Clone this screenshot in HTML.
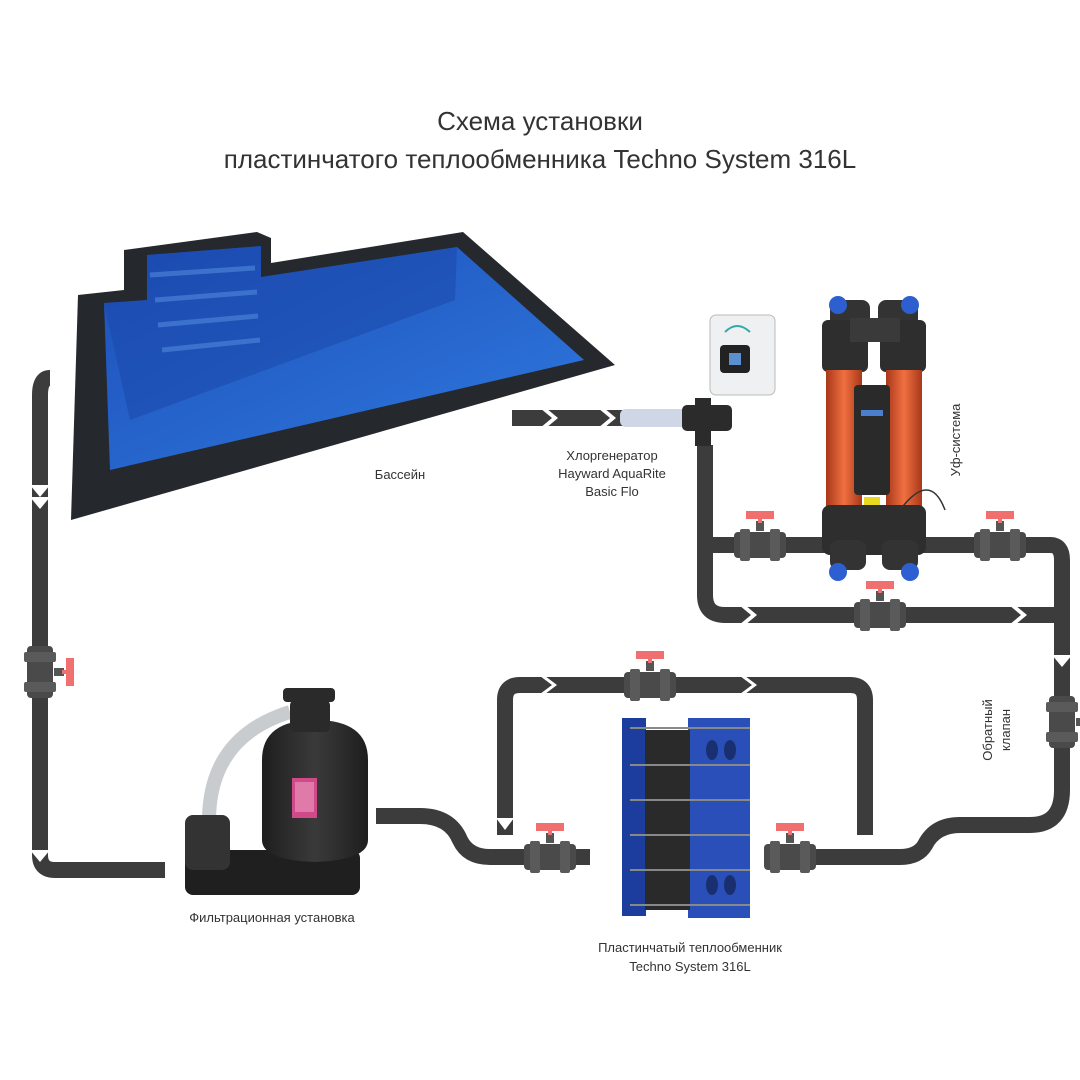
<!DOCTYPE html>
<html><head><meta charset="utf-8"><style>
html,body{margin:0;padding:0;background:#fff;}
svg{display:block}
text{font-family:"Liberation Sans",Arial,sans-serif;fill:#333}
</style></head><body>
<svg width="1080" height="1080" viewBox="0 0 1080 1080" xmlns="http://www.w3.org/2000/svg">
<defs>
<linearGradient id="pw" x1="0" y1="0" x2="1" y2="1"><stop offset="0" stop-color="#1d4fb8"/><stop offset="1" stop-color="#2f7ae0"/></linearGradient>
<linearGradient id="org" x1="0" x2="1"><stop offset="0" stop-color="#a8381a"/><stop offset="0.5" stop-color="#f07040"/><stop offset="1" stop-color="#a8381a"/></linearGradient>
<linearGradient id="tank" x1="0" x2="1"><stop offset="0" stop-color="#1e1e1e"/><stop offset="0.5" stop-color="#3a3a3a"/><stop offset="1" stop-color="#1e1e1e"/></linearGradient>
<g id="valve"><rect x="-26" y="-13" width="52" height="26" rx="4" fill="#4a4a4a"/><rect x="-20" y="-16" width="10" height="32" rx="2" fill="#5a5a5a"/><rect x="10" y="-16" width="10" height="32" rx="2" fill="#5a5a5a"/><rect x="-4" y="-24" width="8" height="10" fill="#555"/><path d="M-14,-34 H14 V-26 H2 V-22 H-2 V-26 H-14 Z" fill="#f07070"/></g>
</defs>
<text x="540" y="130" font-size="26" text-anchor="middle">Схема установки</text>
<text x="540" y="168" font-size="26" text-anchor="middle">пластинчатого теплообменника Techno System 316L</text>

<!-- pool -->
<polygon points="78,295 124,290 124,250 257,232 271,238 271,263 463,232 615,365 71,520" fill="#25282c"/>
<polygon points="104,303 147,300 147,255 261,246 261,277 457,247 584,360 110,470" fill="url(#pw)"/>
<polygon points="104,303 147,300 147,255 261,246 261,277 457,247 455,300 130,420" fill="#1a45a8" opacity="0.5"/>
<g stroke="#4a80d8" stroke-width="5" opacity="0.7"><line x1="150" y1="275" x2="255" y2="268"/><line x1="155" y1="300" x2="257" y2="292"/><line x1="158" y1="325" x2="258" y2="316"/><line x1="162" y1="350" x2="260" y2="340"/></g>

<!-- pipes -->
<g fill="none" stroke="#3c3c3c" stroke-width="16" stroke-linejoin="round">
<path d="M50,378 Q40,378 40,395 V855 Q40,870 55,870 H165"/>
<path d="M512,418 H630"/>
<path d="M705,445 V595 Q705,615 725,615 H1058"/>
<path d="M712,545 H1050 Q1062,545 1062,560 V790 Q1062,825 1030,825 H960 Q935,825 925,845 Q918,857 900,857 H765"/>
<path d="M376,816 H420 Q450,816 460,840 Q468,857 490,857 H590"/>
<path d="M505,835 V700 Q505,685 520,685 H850 Q865,685 865,700 V835"/>
</g>
<!-- arrow gaps -->
<g fill="#fff">
<polygon points="30,485 50,485 40,497"/><polygon points="30,497 50,497 40,509"/>
<polygon points="540,408 552,418 540,428 546,428 558,418 546,408"/>
<polygon points="598,408 610,418 598,428 604,428 616,418 604,408"/>
<polygon points="1052,655 1072,655 1062,667"/>
<polygon points="545,676 557,685 545,694 540,694 552,685 540,676"/>
<polygon points="745,676 757,685 745,694 740,694 752,685 740,676"/>
<polygon points="176,605 188,615 176,625 170,625 182,615 170,605"/>
<polygon points="745,605 757,615 745,625 739,625 751,615 739,605"/>
<polygon points="1015,605 1027,615 1015,625 1009,625 1021,615 1009,605"/>
<polygon points="30,850 50,850 40,862"/>
<polygon points="496,818 514,818 505,830"/>
</g>

<!-- valves -->
<use href="#valve" x="760" y="545"/>
<use href="#valve" x="1000" y="545"/>
<use href="#valve" x="880" y="615"/>
<use href="#valve" x="650" y="685"/>
<use href="#valve" x="550" y="857"/>
<use href="#valve" x="790" y="857"/>
<g transform="translate(40,672) rotate(90)"><use href="#valve"/></g>
<g transform="translate(1062,722) rotate(90)"><use href="#valve"/></g>

<!-- chlorinator -->
<rect x="710" y="315" width="65" height="80" rx="6" fill="#eef0f2" stroke="#bbb"/>
<rect x="720" y="345" width="30" height="28" rx="4" fill="#222"/>
<rect x="729" y="353" width="12" height="12" fill="#5a8fd0"/>
<path d="M725,332 Q737,320 750,332" stroke="#3aa" stroke-width="2" fill="none"/>
<rect x="620" y="409" width="70" height="18" rx="6" fill="#cfd6e6"/>
<rect x="682" y="405" width="50" height="26" rx="5" fill="#2b2b2b"/>
<rect x="695" y="398" width="16" height="48" fill="#2b2b2b"/>

<!-- UV system -->
<rect x="830" y="300" width="40" height="30" rx="8" fill="#333"/><rect x="878" y="300" width="40" height="30" rx="8" fill="#333"/>
<circle cx="838" cy="305" r="9" fill="#2d5fd0"/><circle cx="910" cy="305" r="9" fill="#2d5fd0"/>
<rect x="822" y="320" width="46" height="52" rx="6" fill="#2e2e2e"/><rect x="880" y="320" width="46" height="52" rx="6" fill="#2e2e2e"/>
<rect x="850" y="318" width="50" height="24" fill="#3a3a3a"/>
<rect x="826" y="370" width="36" height="140" fill="url(#org)"/><rect x="886" y="370" width="36" height="140" fill="url(#org)"/>
<rect x="854" y="385" width="36" height="110" rx="4" fill="#2a2a2a"/>
<rect x="861" y="410" width="22" height="6" fill="#4a7fd0"/>
<rect x="864" y="497" width="16" height="20" fill="#e8d820"/>
<rect x="822" y="505" width="104" height="50" rx="8" fill="#2e2e2e"/>
<rect x="830" y="540" width="36" height="30" rx="8" fill="#333"/><rect x="882" y="540" width="36" height="30" rx="8" fill="#333"/>
<circle cx="838" cy="572" r="9" fill="#2d5fd0"/><circle cx="910" cy="572" r="9" fill="#2d5fd0"/>
<path d="M900,510 Q930,470 945,510" stroke="#333" stroke-width="1.5" fill="none"/>

<!-- filter -->
<rect x="185" y="850" width="175" height="45" rx="8" fill="#1f1f1f"/>
<path d="M210,840 Q200,740 290,712" stroke="#c8ccce" stroke-width="14" fill="none"/>
<rect x="185" y="815" width="45" height="55" rx="8" fill="#333"/>
<path d="M262,760 Q262,720 315,720 Q368,720 368,760 V840 Q368,860 315,862 Q262,860 262,840 Z" fill="url(#tank)"/>
<rect x="290" y="700" width="40" height="32" rx="5" fill="#2a2a2a"/>
<rect x="283" y="688" width="52" height="14" rx="4" fill="#2a2a2a"/>
<rect x="292" y="778" width="25" height="40" fill="#d04a8a"/><rect x="295" y="782" width="19" height="30" fill="#e07aa8"/>

<!-- heat exchanger -->
<rect x="622" y="718" width="24" height="198" fill="#1d3d9e"/>
<rect x="688" y="718" width="62" height="200" fill="#2a4fb8"/>
<rect x="645" y="730" width="45" height="180" fill="#2a2a2a"/>
<g stroke="#888" stroke-width="2"><line x1="630" y1="728" x2="750" y2="728"/><line x1="630" y1="765" x2="750" y2="765"/><line x1="630" y1="800" x2="750" y2="800"/><line x1="630" y1="835" x2="750" y2="835"/><line x1="630" y1="870" x2="750" y2="870"/><line x1="630" y1="905" x2="750" y2="905"/></g>
<ellipse cx="712" cy="750" rx="6" ry="10" fill="#1a2f70"/><ellipse cx="730" cy="750" rx="6" ry="10" fill="#1a2f70"/>
<ellipse cx="712" cy="885" rx="6" ry="10" fill="#1a2f70"/><ellipse cx="730" cy="885" rx="6" ry="10" fill="#1a2f70"/>

<!-- labels -->
<text x="400" y="479" font-size="13" text-anchor="middle">Бассейн</text>
<text x="612" y="460" font-size="13" text-anchor="middle">Хлоргенератор</text>
<text x="612" y="478" font-size="13" text-anchor="middle">Hayward AquaRite</text>
<text x="612" y="496" font-size="13" text-anchor="middle">Basic Flo</text>
<text transform="translate(960,440) rotate(-90)" font-size="13" text-anchor="middle">Уф-система</text>
<text transform="translate(992,730) rotate(-90)" font-size="13" text-anchor="middle">Обратный</text>
<text transform="translate(1010,730) rotate(-90)" font-size="13" text-anchor="middle">клапан</text>
<text x="272" y="922" font-size="13" text-anchor="middle">Фильтрационная установка</text>
<text x="690" y="952" font-size="13" text-anchor="middle">Пластинчатый теплообменник</text>
<text x="690" y="971" font-size="13" text-anchor="middle">Techno System 316L</text>
</svg>
</body></html>
